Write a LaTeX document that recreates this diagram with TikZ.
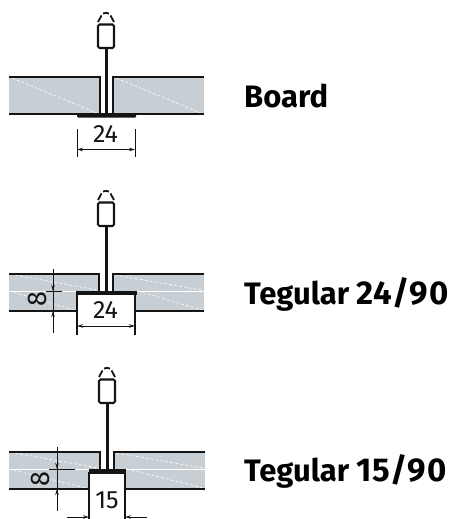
\documentclass[tikz,border=0pt]{standalone}
\usepackage{fontspec}
\setmainfont{Fira Sans}
\usetikzlibrary{arrows.meta}
\definecolor{boardgrey}{RGB}{199,206,212}
\definecolor{inkline}{RGB}{20,20,20}
\tikzset{
	boardedge/.style={line width=1.6pt,inkline},
	stemline/.style={line width=3pt,inkline},
	thinline/.style={line width=1pt,inkline},
	tileside/.style={line width=1.5pt,inkline},
	dimline/.style={line width=1pt,inkline,{Stealth[length=6pt,width=3.5pt]}-{Stealth[length=6pt,width=3.5pt]}},
	leader/.style={line width=1pt,inkline,-{Stealth[length=6pt,width=3.5pt]}},
	hatch/.style={white,line width=0.6pt,densely dashed},
	title/.style={font=\fontsize{31}{31}\selectfont\bfseries,anchor=west,inner sep=0pt},
	dimtext/.style={font=\fontsize{25}{25}\selectfont,inner sep=0pt,inkline},
	eighttext/.style={font=\fontsize{27}{27}\selectfont,inner sep=0pt,inkline,rotate=90}
}
\newcommand{\titlenum}[1]{{\fontsize{33}{33}\selectfont\addfontfeatures{LetterSpace=3}#1}}
%% hanger: centre x, top of the hat y
\newcommand{\hanger}[2]{
	\draw[line width=1.8pt,inkline] (#1-8,#2+10) -- (#1-4.5,#2+3.5);
	\draw[line width=1.8pt,inkline] (#1-3,#2+1.5) to[bend left=20] (#1+3,#2+1.5);
	\draw[line width=1.8pt,inkline] (#1+4.5,#2+3.5) -- (#1+8,#2+10);
	\draw[line width=2.1pt,inkline,rounded corners=1.5pt] (#1-8,#2+12.5) rectangle (#1+8,#2+36);
	\draw[stemline] (#1,#2+37) -- (#1,#2+102);
}
\begin{document}
\begin{tikzpicture}[x=1pt,y=-1pt]
	\useasboundingbox (0,0) rectangle (450,519);
	%%% Board
	\fill[boardgrey] (9,77) rectangle (100,114);
	\fill[boardgrey] (113,77) rectangle (204,114);
	\draw[hatch] (12,78) -- (97,113);
	\draw[hatch] (116,78) -- (201,113);
	\draw[boardedge] (9,77) -- (100,77) -- (100,114);
	\draw[boardedge] (204,77) -- (113,77) -- (113,114);
	\draw[boardedge] (9,114) -- (204,114);
	\hanger{106}{12}
	\fill[inkline,rounded corners=1pt] (77,114) rectangle (136,117.5);
	\coordinate (bl) at (77,129);
	\coordinate (br) at (135,129);
	\draw[thinline] (bl) -- ++(0,28);
	\draw[thinline] (br) -- ++(0,28);
	\draw[dimline] (77,149.5) -- (135,149.5);
	\node[dimtext] (bdim) at (105.5,134.5) {24};
	\node[title] (blabel) at (244,96) {Board};
	%%% Tegular 24/90
	\fill[boardgrey] (9,274) rectangle (100,311);
	\fill[boardgrey] (113,274) rectangle (204,311);
	\draw[white,line width=0.4pt] (9,291) -- (204,291);
	\draw[hatch] (15,275) -- (97,290);
	\draw[hatch] (9,291) -- (74,310);
	\draw[hatch] (115,275) -- (202,290);
	\draw[hatch] (138,291) -- (202,310);
	\draw[boardedge] (9,274) -- (99,274) -- (99,291);
	\draw[boardedge] (204,274) -- (113,274) -- (113,291);
	\draw[boardedge] (9,311) -- (77,311);
	\draw[boardedge] (136,311) -- (204,311);
	\hanger{106}{190}
	\fill[white] (77,294) rectangle (135,334);
	\draw[tileside] (77,334.5) -- (77,294) (135,334.5) -- (135,294);
	\fill[inkline] (76,291) rectangle (137,294.5);
	\draw[dimline] (77,326) -- (135,326);
	\node[dimtext] (tdim) at (105.5,310) {24};
	\draw[thinline] (53,269) -- (53,333);
	\draw[leader] (53,277) -- (53,291);
	\draw[leader] (53,333) -- (53,311);
	\draw[thinline] (46,291) -- (62,291);
	\node[eighttext] (teight) at (37,299) {8};
	\node[title] (tlabel) at (244,294) {Tegular \titlenum{24/90}};
	%%% Tegular 15/90
	\fill[boardgrey] (9,452) rectangle (100,489);
	\fill[boardgrey] (114,452) rectangle (205,489);
	\draw[white,line width=0.4pt] (9,469) -- (205,469);
	\draw[hatch] (15,453) -- (98,468);
	\draw[hatch] (9,469) -- (86,488);
	\draw[hatch] (116,453) -- (203,468);
	\draw[hatch] (127,469) -- (203,488);
	\draw[boardedge] (9,452) -- (100,452) -- (100,469);
	\draw[boardedge] (205,452) -- (114,452) -- (114,469);
	\draw[boardedge] (9,489) -- (89,489);
	\draw[boardedge] (125,489) -- (205,489);
	\hanger{107}{367}
	\fill[white] (89,472) rectangle (125,519);
	\draw[tileside] (89,519) -- (89,472) (125,519) -- (125,472);
	\fill[inkline] (88.5,469) rectangle (125.5,473.5);
	\node[dimtext] (sdim) at (107,500) {15};
	\draw[leader] (67,517) -- (89,517);
	\draw[leader] (147,517) -- (125,517);
	\draw[thinline] (57,447) -- (57,511);
	\draw[leader] (57,455) -- (57,469);
	\draw[leader] (57,511) -- (57,489);
	\draw[thinline] (49,469) -- (75,469);
	\node[eighttext] (seight) at (40,479) {8};
	\node[title] (slabel) at (244,471) {Tegular \titlenum{15/90}};
\end{tikzpicture}
\end{document}
